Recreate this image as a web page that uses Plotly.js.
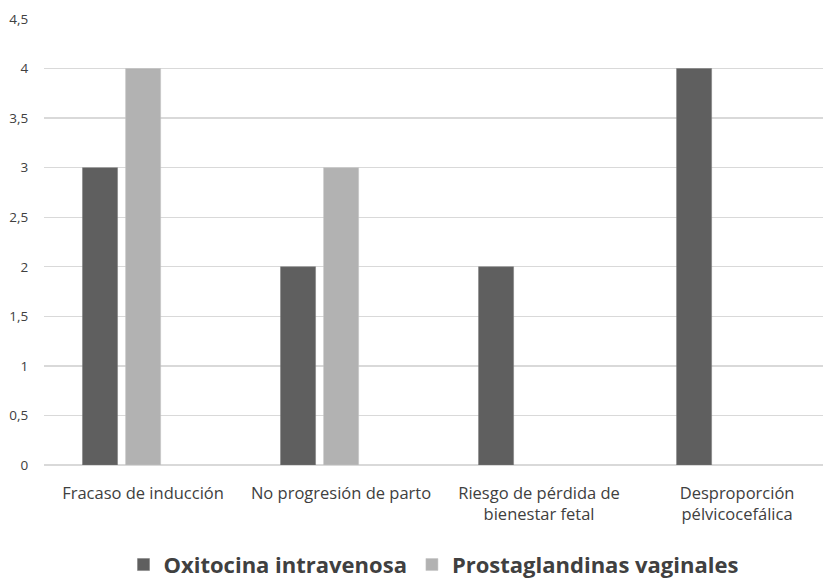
<!DOCTYPE html>
<html>
<head>
<meta charset="utf-8">
<script src="https://cdn.plot.ly/plotly-3.0.1.min.js"></script>
<style>html,body{margin:0;padding:0;background:#fff;}#chart{width:823px;height:581px;}</style>
</head>
<body>
<div id="chart"></div>
<script>
const categories = [
  "Fracaso de inducción",
  "No progresión de parto",
  "Riesgo de pérdida de<br>bienestar fetal",
  "Desproporción<br>pélvicocefálica"
];
const oxitocina = [3, 2, 2, 4];
const prostaglandinas = [4, 3, null, null];
const seriesNames = ["Oxitocina intravenosa", "Prostaglandinas vaginales"];
const tickVals = [0, 0.5, 1, 1.5, 2, 2.5, 3, 3.5, 4, 4.5];

const font = "Open Sans, sans-serif";
const traces = [
  {type: "bar", name: seriesNames[0], x: categories, y: oxitocina,
   marker: {color: "#5f5f5f", line: {color: "#7a7a7a", width: 0.5}},
   width: 0.177, offset: -0.3056, hoverinfo: "none"},
  {type: "bar", name: seriesNames[1], x: categories, y: prostaglandinas,
   marker: {color: "#b2b2b2", line: {color: "#c4c4c4", width: 0.5}},
   width: 0.177, offset: -0.088, hoverinfo: "none"}
];
const layout = {
  width: 823, height: 581,
  margin: {l: 44, r: 0, t: 19, b: 116, autoexpand: false},
  paper_bgcolor: "#ffffff", plot_bgcolor: "#ffffff",
  separators: ",.",
  font: {family: font, color: "#404040"},
  barmode: "group",
  xaxis: {
    type: "category",
    range: [-0.5, 3.434],
    showgrid: false, zeroline: false, showline: false,
    ticks: "outside", ticklen: 13, tickcolor: "rgba(0,0,0,0)",
    tickfont: {size: 16.5, color: "#404040", family: font}
  },
  yaxis: {
    range: [0, 4.5],
    tickvals: tickVals,
    tickformat: ".1~f",
    showgrid: true, gridcolor: "#d9d9d9", gridwidth: 1.3,
    zeroline: true, zerolinecolor: "#d9d9d9", zerolinewidth: 1.3,
    showline: false,
    ticks: "outside", ticklen: 12, tickcolor: "rgba(0,0,0,0)",
    tickfont: {size: 13.5, color: "#404040", family: font}
  },
  showlegend: true,
  legend: {
    orientation: "h", x: 0.5, xanchor: "center",
    yref: "container", y: 0.028, yanchor: "middle",
    font: {size: 22, color: "#404040", family: font, weight: "bold"},
    itemwidth: 30, tracegroupgap: 0
  }
};
Plotly.newPlot("chart", traces, layout, {displayModeBar: false, staticPlot: true});
</script>
</body>
</html>
